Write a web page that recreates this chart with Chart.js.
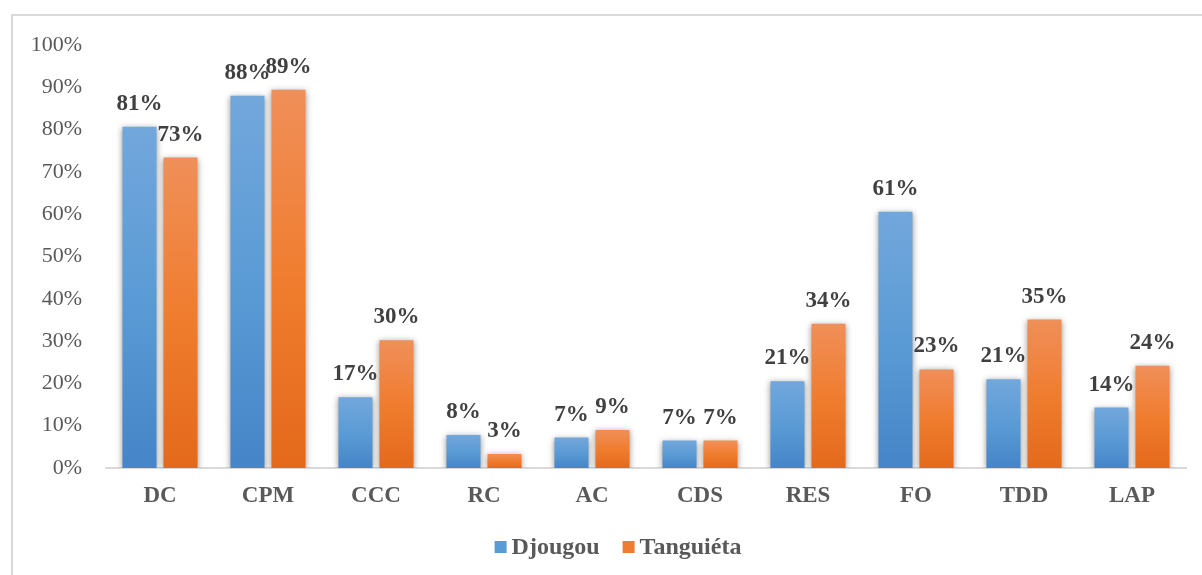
<!DOCTYPE html>
<html>
<head>
<meta charset="utf-8">
<script src="https://cdn.jsdelivr.net/npm/chart.js@4.4.1/dist/chart.umd.min.js"></script>
<style>
  html, body { margin: 0; padding: 0; background: #fff; overflow: hidden; }
  #frame { position: absolute; left: 11px; top: 14px; width: 1300px; height: 700px; border: 2px solid #d9d9d9; }
  #wrap { position: absolute; left: 0; top: 0; width: 1202px; height: 575px; }
</style>
</head>
<body>
<div id="frame"></div>
<div id="wrap"><canvas id="chart"></canvas></div>
<script>
// --- data ---
const categories = ['DC', 'CPM', 'CCC', 'RC', 'AC', 'CDS', 'RES', 'FO', 'TDD', 'LAP'];
const djougou = [80.7, 88.0, 16.7, 7.8, 7.2, 6.5, 20.5, 60.6, 21.0, 14.3];
const tanguieta = [73.4, 89.4, 30.2, 3.3, 9.0, 6.5, 34.1, 23.3, 35.1, 24.2];
const yTicks = [0, 10, 20, 30, 40, 50, 60, 70, 80, 90, 100];

const serif = "'Liberation Serif', 'Times New Roman', serif";
const blue = { top: '#72a7dc', mid: '#5b9bd5', bottom: '#4585c8' };
const orange = { top: '#f08f59', mid: '#f07d2f', bottom: '#e4691b' };
const colorsFor = [blue, orange];

// gradient per bar, light on top, dark at the base
function barFill(c) {
    return ctx => {
        const chart = ctx.chart;
        if (!chart.chartArea || ctx.type !== 'data') return c.mid;
        const y = chart.scales.y;
        const yTop = y.getPixelForValue(ctx.raw);
        const yBase = y.getPixelForValue(0);
        if (!isFinite(yTop) || !isFinite(yBase) || yTop === yBase) return c.mid;
        const g = chart.ctx.createLinearGradient(0, yTop, 0, yBase);
        g.addColorStop(0, c.top);
        g.addColorStop(0.5, c.mid);
        g.addColorStop(1, c.bottom);
        return g;
    };
}

// soft shadow round the bars
const barShadow = {
    id: 'barShadow',
    beforeDatasetsDraw(chart) {
        const ctx = chart.ctx;
        ctx.save();
        ctx.shadowColor = 'rgba(0,0,0,0.4)';
        ctx.shadowBlur = 6;
        ctx.shadowOffsetX = 0;
        ctx.shadowOffsetY = 1;
    },
    afterDatasetsDraw(chart) {
        chart.ctx.restore();
    }
};

// value labels above each bar
const valueLabels = {
    id: 'valueLabels',
    afterDatasetsDraw(chart) {
        const ctx = chart.ctx;
        ctx.save();
        ctx.font = 'bold 23px ' + serif;
        ctx.fillStyle = '#404040';
        ctx.textAlign = 'center';
        ctx.textBaseline = 'alphabetic';
        chart.data.datasets.forEach((ds, i) => {
            chart.getDatasetMeta(i).data.forEach((bar, j) => {
                ctx.fillText(Math.round(ds.data[j]) + '%', bar.x, bar.y - 17);
            });
        });
        ctx.restore();
    }
};

// legend below the axis, centred like the original (box, small gap, label)
const bottomLegend = {
    id: 'bottomLegend',
    afterDraw(chart) {
        const ctx = chart.ctx;
        const centreX = 618, centreY = 548, box = 12, gap = 5, spacing = 23;
        ctx.save();
        ctx.font = 'bold 24px ' + serif;
        ctx.textBaseline = 'middle';
        ctx.textAlign = 'left';
        const items = chart.data.datasets.map((ds, i) => ({ text: ds.label, color: colorsFor[i].mid, w: ctx.measureText(ds.label).width }));
        const total = items.reduce((s, it) => s + box + gap + it.w, 0) + spacing * (items.length - 1);
        let x = centreX - total / 2;
        items.forEach(it => {
            ctx.fillStyle = it.color;
            ctx.fillRect(x, centreY - box / 2 - 1, box, box);
            ctx.fillStyle = '#595959';
            ctx.fillText(it.text, x + box + gap, centreY);
            x += box + gap + it.w + spacing;
        });
        ctx.restore();
    }
};

new Chart(document.getElementById('chart'), {
    type: 'bar',
    data: {
        labels: categories,
        datasets: [
            { label: 'Djougou', data: djougou, backgroundColor: barFill(blue), borderWidth: 0 },
            { label: 'Tanguiéta', data: tanguieta, backgroundColor: barFill(orange), borderWidth: 0 }
        ]
    },
    options: {
        responsive: true,
        maintainAspectRatio: false,
        animation: false,
        datasets: { bar: { categoryPercentage: 0.76, barPercentage: 0.83 } },
        layout: { padding: { top: 45, left: 0, right: 16, bottom: 59 } },
        plugins: {
            tooltip: { enabled: false },
            legend: { display: false }
        },
        scales: {
            x: {
                grid: { display: false, drawTicks: false },
                border: { display: true, color: '#d9d9d9', width: 2 },
                ticks: { font: { family: serif, size: 23, weight: 'bold' }, color: '#595959', padding: 14 },
                afterFit: s => { s.height = 48; }
            },
            y: {
                min: 0,
                max: 100,
                afterBuildTicks: s => { s.ticks = yTicks.map(v => ({ value: v })); },
                grid: { display: false, drawTicks: false },
                border: { display: false },
                ticks: { font: { family: serif, size: 22 }, color: '#595959', padding: 24, callback: v => v + '%' },
                afterFit: s => { s.width = 106; }
            }
        }
    },
    plugins: [barShadow, valueLabels, bottomLegend]
});
</script>
</body>
</html>
